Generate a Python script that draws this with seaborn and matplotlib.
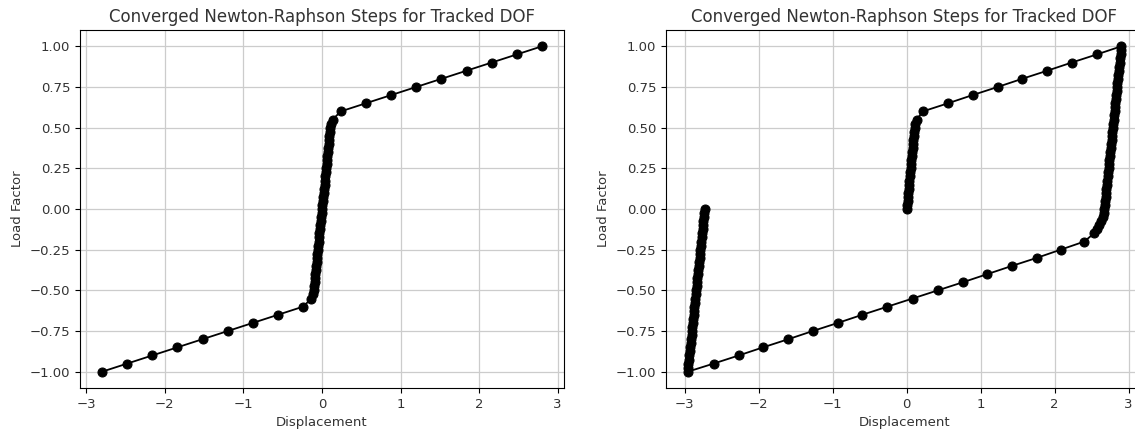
import pandas as pd
import matplotlib
matplotlib.use('Agg')
import matplotlib.pyplot as plt
import seaborn as sns

# Left run: monotonic load from -1 to 1
left_load_lower = [-1.00, -0.95, -0.90, -0.85, -0.80, -0.75, -0.70, -0.65, -0.60]
left_disp_lower = [-2.80, -2.48, -2.16, -1.84, -1.52, -1.20, -0.88, -0.56, -0.24]

left_load_elastic = [-0.550, -0.525, -0.500, -0.475, -0.450, -0.425, -0.400, -0.375, -0.350,
                     -0.325, -0.300, -0.275, -0.250, -0.225, -0.200, -0.175, -0.150, -0.125,
                     -0.100, -0.075, -0.050, -0.025, 0.000, 0.025, 0.050, 0.075, 0.100,
                     0.125, 0.150, 0.175, 0.200, 0.225, 0.250, 0.275, 0.300, 0.325,
                     0.350, 0.375, 0.400, 0.425, 0.450, 0.475, 0.500, 0.525, 0.550]
left_disp_elastic = [-0.135, -0.118, -0.107, -0.100, -0.094, -0.089, -0.084, -0.079, -0.074,
                     -0.068, -0.063, -0.058, -0.053, -0.047, -0.042, -0.037, -0.032, -0.026,
                     -0.021, -0.016, -0.011, -0.005, 0.000, 0.005, 0.011, 0.016, 0.021,
                     0.026, 0.032, 0.037, 0.042, 0.047, 0.053, 0.058, 0.063, 0.068,
                     0.074, 0.079, 0.084, 0.089, 0.094, 0.100, 0.107, 0.118, 0.135]

left_load_upper = [0.60, 0.65, 0.70, 0.75, 0.80, 0.85, 0.90, 0.95, 1.00]
left_disp_upper = [0.24, 0.56, 0.88, 1.20, 1.52, 1.84, 2.16, 2.48, 2.80]

# Right run: load 0 -> 1 -> -1 -> 0
right_load_up = [0.000, 0.025, 0.050, 0.075, 0.100, 0.125, 0.150, 0.175, 0.200, 0.225,
                 0.250, 0.275, 0.300, 0.325, 0.350, 0.375, 0.400, 0.425, 0.450, 0.475,
                 0.500, 0.525, 0.550, 0.60, 0.65, 0.70, 0.75, 0.80, 0.85, 0.90, 0.95, 1.00]
right_disp_up = [0.000, 0.005, 0.011, 0.016, 0.021, 0.026, 0.032, 0.037, 0.042, 0.047,
                 0.053, 0.058, 0.063, 0.068, 0.074, 0.079, 0.084, 0.089, 0.094, 0.100,
                 0.107, 0.118, 0.135, 0.22, 0.56, 0.89, 1.23, 1.56, 1.90, 2.23, 2.57, 2.90]

right_load_down = [0.975, 0.950, 0.925, 0.900, 0.875, 0.850, 0.825, 0.800, 0.775, 0.750,
                   0.725, 0.700, 0.675, 0.650, 0.625, 0.600, 0.575, 0.550, 0.525, 0.500,
                   0.475, 0.450, 0.425, 0.400, 0.375, 0.350, 0.325, 0.300, 0.275, 0.250,
                   0.225, 0.200, 0.175, 0.150, 0.125, 0.100, 0.075, 0.050, 0.025, 0.000,
                   -0.025, -0.050, -0.075, -0.100, -0.125,
                   -0.15, -0.20, -0.25, -0.30, -0.35, -0.40, -0.45, -0.50, -0.55, -0.60,
                   -0.65, -0.70, -0.75, -0.80, -0.85, -0.90, -0.95, -1.00]
right_disp_down = [2.894, 2.889, 2.883, 2.877, 2.871, 2.866, 2.860, 2.854, 2.848, 2.843,
                   2.837, 2.831, 2.825, 2.820, 2.814, 2.808, 2.802, 2.797, 2.791, 2.785,
                   2.779, 2.774, 2.768, 2.762, 2.756, 2.751, 2.745, 2.739, 2.733, 2.728,
                   2.722, 2.716, 2.710, 2.705, 2.699, 2.693, 2.687, 2.682, 2.676, 2.670,
                   2.662, 2.650, 2.632, 2.605, 2.570,
                   2.53, 2.40, 2.08, 1.76, 1.42, 1.09, 0.76, 0.42, 0.08, -0.26,
                   -0.60, -0.93, -1.27, -1.60, -1.94, -2.27, -2.61, -2.96]

right_load_back = [-0.975, -0.950, -0.925, -0.900, -0.875, -0.850, -0.825, -0.800, -0.775, -0.750,
                   -0.725, -0.700, -0.675, -0.650, -0.625, -0.600, -0.575, -0.550, -0.525, -0.500,
                   -0.475, -0.450, -0.425, -0.400, -0.375, -0.350, -0.325, -0.300, -0.275, -0.250,
                   -0.225, -0.200, -0.175, -0.150, -0.125, -0.100, -0.075, -0.050, -0.025, 0.000]
right_disp_back = [-2.954, -2.949, -2.943, -2.937, -2.931, -2.926, -2.920, -2.914, -2.908, -2.903,
                   -2.897, -2.891, -2.885, -2.880, -2.874, -2.868, -2.862, -2.857, -2.851, -2.845,
                   -2.839, -2.834, -2.828, -2.822, -2.816, -2.811, -2.805, -2.799, -2.793, -2.788,
                   -2.782, -2.776, -2.770, -2.765, -2.759, -2.753, -2.747, -2.742, -2.736, -2.730]

df_left = pd.DataFrame({
    'Displacement': left_disp_lower + left_disp_elastic + left_disp_upper,
    'Load Factor': left_load_lower + left_load_elastic + left_load_upper,
})
df_right = pd.DataFrame({
    'Displacement': right_disp_up + right_disp_down + right_disp_back,
    'Load Factor': right_load_up + right_load_down + right_load_back,
})

plt.rcParams['font.family'] = ['DejaVu Sans']

fig = plt.figure(figsize=(11.35, 4.32), dpi=100)
ax1 = fig.add_axes([80/1135, 44/432, 484/1135, 358/432])
ax2 = fig.add_axes([666/1135, 44/432, 477/1135, 358/432])

for ax, data in [(ax1, df_left), (ax2, df_right)]:
    sns.lineplot(data, x='Displacement', y='Load Factor', sort=False, estimator=None,
                 color='black', marker='o', markersize=6.5, markeredgecolor='black',
                 linewidth=1.3, ax=ax)
    ax.set_title('Converged Newton-Raphson Steps for Tracked DOF', fontsize=12, color='#333333')
    ax.set_xlabel('Displacement', fontsize=9.5, color='#333333')
    ax.set_ylabel('Load Factor', fontsize=9.5, color='#333333')
    ax.tick_params(labelsize=9.5, labelcolor='#333333')
    ax.grid(True, color='#cccccc', linewidth=0.9)
    ax.set_axisbelow(True)
    ax.set_yticks([-1.0, -0.75, -0.5, -0.25, 0.0, 0.25, 0.5, 0.75, 1.0])

fig.savefig('out.png', dpi=100)
